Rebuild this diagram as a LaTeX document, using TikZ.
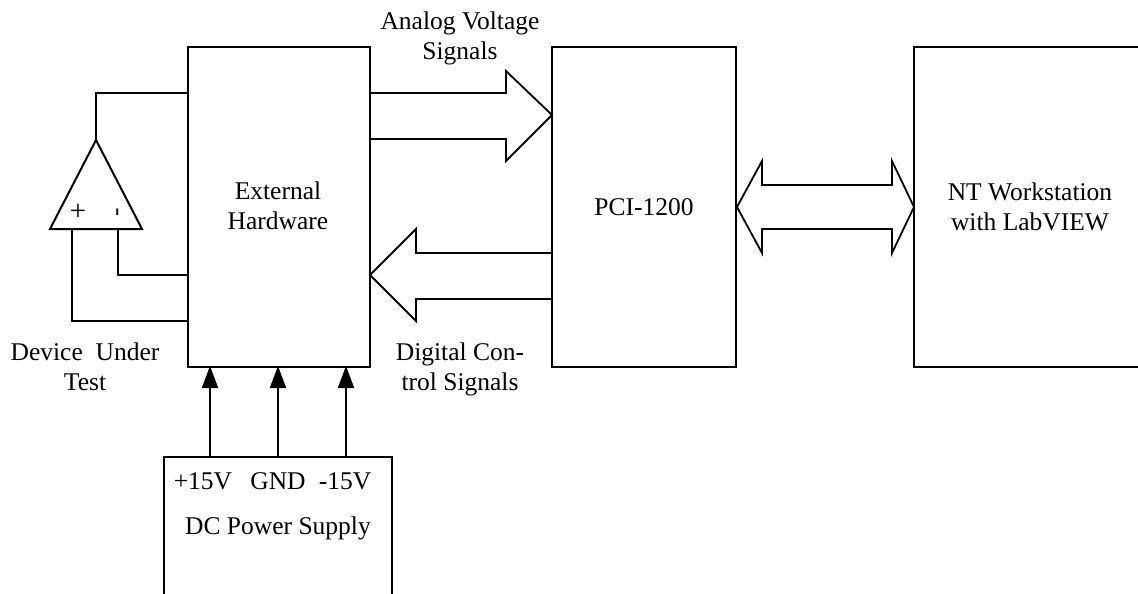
\documentclass[tikz,border=0pt]{standalone}
\usepackage{fontspec}
\setmainfont{Liberation Serif}
\usetikzlibrary{arrows.meta}
\begin{document}
\begin{tikzpicture}[x=1pt,y=-1pt,line width=2pt,line join=miter,
		main/.style = {draw, rectangle, inner sep=0pt, outer sep=0pt},
		label/.style = {align=center, inner sep=0pt, font=\fontsize{25.5}{30}\selectfont},
		bus/.style = {line width=1.8pt, miter limit=20},
		feed/.style = {-{Triangle[length=22pt,width=16pt]}, shorten >=-1pt}]
	\useasboundingbox (0,0) rectangle (1138,594);
	\node[main, minimum width=182pt, minimum height=320pt] (ext) at (279,207) {};
	\node[main, minimum width=184pt, minimum height=320pt] (pci) at (644,207) {};
	\node[main, minimum width=232pt, minimum height=320pt] (nt) at (1030,207) {};
	\node[main, minimum width=228pt, minimum height=180pt] (dc) at (278,547) {};
	\node[label] (extlabel) at (278,206) {External\\Hardware};
	\node[label] (pcilabel) at (644,207) {PCI-1200};
	\node[label] (ntlabel) at (1030,207) {NT Workstation\\with LabVIEW};
	\node[label] (analog) at (460,38) {Analog Voltage\\Signals};
	\node[label] (digital) at (460,369) {Digital Con-\\trol Signals};
	\node[label] (dut) at (85,367) {Device\ \ Under\\Test};
	\node[label] (p15) at (203,481) {+15V};
	\node[label] (gnd) at (278,481) {GND};
	\node[label] (m15) at (345,481) {-15V};
	\node[label] (dclabel) at (278,528) {DC Power Supply};
	\node[label, font=\fontsize{29}{30}\selectfont] (plus) at (78,212) {+};
	\node[label, rotate=90] (minus) at (120,212) {-};
	% amplifier
	\coordinate (apex) at (96,140);
	\coordinate (ampl) at (50,229);
	\coordinate (ampr) at (142,229);
	\draw (apex) -- (ampl) -- (ampr) -- cycle;
	% wires to the amplifier
	\coordinate (outp) at (188,93);
	\coordinate (inm) at (188,275);
	\coordinate (inp) at (188,321);
	\coordinate (pinm) at (118,229);
	\coordinate (pinp) at (72,229);
	\draw (apex) |- (outp);
	\draw (pinm) |- (inm);
	\draw (pinp) |- (inp);
	% supply lines
	\coordinate (sa) at (210,457);
	\coordinate (sb) at (278,457);
	\coordinate (sc) at (346,457);
	\coordinate (ea) at (210,367);
	\coordinate (eb) at (278,367);
	\coordinate (ec) at (346,367);
	\draw[feed] (sa) -- (ea);
	\draw[feed] (sb) -- (eb);
	\draw[feed] (sc) -- (ec);
	% bus arrows
	\draw[bus] (370,93) -- (506,93) -- (506,71) -- (552,115) -- (506,161) -- (506,139) -- (370,139);
	\draw[bus] (552,253) -- (416,253) -- (416,229) -- (370,275) -- (416,321) -- (416,299) -- (552,299);
	\draw[bus] (737,207) -- (762,161) -- (762,185) -- (892,185) -- (892,161) -- (914,207)
		-- (892,253) -- (892,229) -- (762,229) -- (762,253) -- cycle;
\end{tikzpicture}
\end{document}
